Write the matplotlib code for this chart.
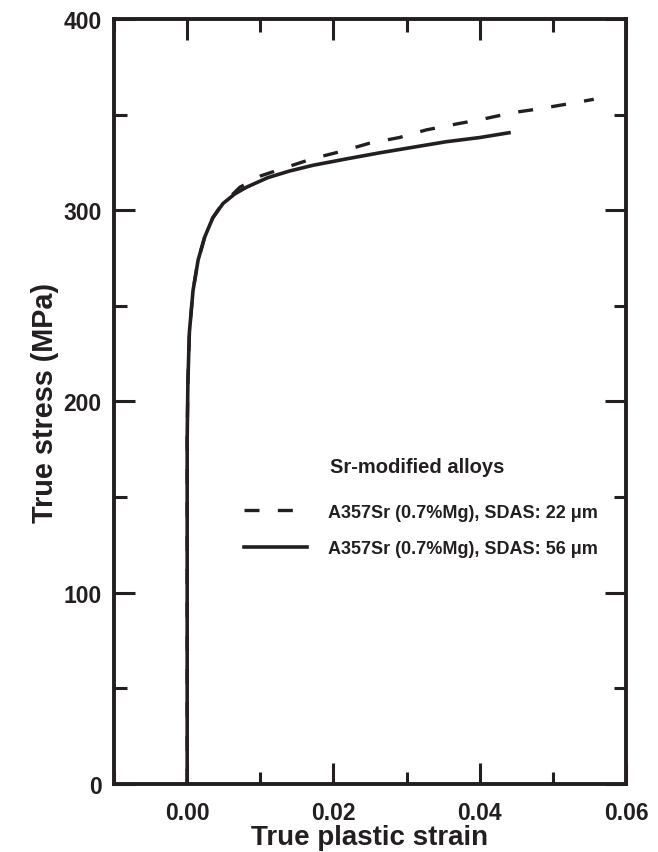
import matplotlib
matplotlib.use("Agg")
import matplotlib.pyplot as plt
from matplotlib.ticker import MultipleLocator

plt.rcParams['font.family'] = ['Liberation Sans', 'DejaVu Sans']
plt.rcParams['font.weight'] = 'bold'

ink = '#231f20'

# solid curve: SDAS 56 um
strain_56 = [0, 0, 0.0001, 0.0003, 0.0008, 0.0015, 0.0024, 0.0035, 0.0049, 0.0065,
             0.0081, 0.0110, 0.0140, 0.0172, 0.0220, 0.0263, 0.0310, 0.0354, 0.0400, 0.0440]
stress_56 = [0, 180, 210, 236, 258, 274, 286, 296, 303.5, 308.5,
             312, 317, 320.5, 323.5, 327, 330, 333, 335.8, 338, 340.5]

# dashed curve: SDAS 22 um
strain_22 = [0, 0, 0.0001, 0.0003, 0.0008, 0.0015, 0.0024, 0.0035, 0.0049, 0.0060,
             0.0072, 0.0101, 0.0140, 0.0172, 0.0213, 0.0249, 0.0290, 0.0327, 0.0367,
             0.0404, 0.0445, 0.0481, 0.0527, 0.0556]
stress_22 = [0, 180, 210, 236, 258, 274, 286, 296, 304, 307.5,
             312, 318, 323, 327, 331, 335, 338, 342, 345,
             347.6, 351, 353, 356, 358]

labels = ['A357Sr (0.7%Mg), SDAS: 22 \u03bcm', 'A357Sr (0.7%Mg), SDAS: 56 \u03bcm']
legend_title = 'Sr-modified alloys'

fig = plt.figure(figsize=(6.58, 8.53), dpi=100)
ax = fig.add_axes([0.1733, 0.0797, 0.778, 0.8969])

ax.plot(strain_22, stress_22, color=ink, lw=2.4, dashes=(4.5, 5.5), label=labels[0])
ax.plot(strain_56, stress_56, color=ink, lw=2.6, label=labels[1])

ax.set_xlim(-0.01, 0.06)
ax.set_ylim(0, 400)
ax.xaxis.set_major_locator(MultipleLocator(0.02))
ax.xaxis.set_minor_locator(MultipleLocator(0.01))
ax.yaxis.set_major_locator(MultipleLocator(100))
ax.yaxis.set_minor_locator(MultipleLocator(50))
ax.xaxis.set_major_formatter(lambda v, p: f'{v:.2f}')
ax.yaxis.set_major_formatter(lambda v, p: f'{v:.0f}')

ax.tick_params(which='both', direction='in', top=True, right=True, color=ink,
               labelcolor=ink, labelsize=16.5)
ax.tick_params(which='major', length=15, width=2.2)
ax.tick_params(which='minor', length=9, width=2.2)
ax.tick_params(axis='x', pad=12)
ax.tick_params(axis='y', pad=9)
for s in ax.spines.values():
    s.set_linewidth(2.8)
    s.set_color(ink)

ax.set_xlabel('True plastic strain', fontsize=20, fontweight='bold', color=ink, labelpad=0)
ax.set_ylabel('True stress (MPa)', fontsize=20.8, fontweight='bold', color=ink, labelpad=3)

leg = ax.legend(loc='upper left', bbox_to_anchor=(0.2395, 0.376), frameon=False,
                fontsize=13, handlelength=3.5, handletextpad=1.15, labelspacing=1.1,
                borderaxespad=0)
for t in leg.get_texts():
    t.set_color(ink)
ax.text(0.421, 0.415, legend_title, transform=ax.transAxes, fontsize=14.5,
        fontweight='bold', color=ink, ha='left', va='center')

fig.savefig('out.png', dpi=100)
